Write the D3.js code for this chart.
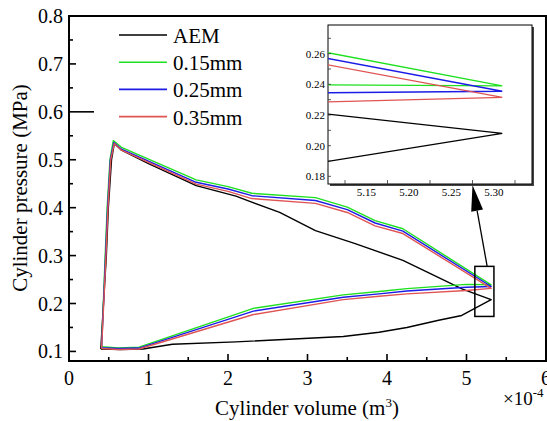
<!DOCTYPE html>
<html>
<head>
<meta charset="utf-8">
<script src="https://cdn.jsdelivr.net/npm/d3@7"></script>
<style>
  html, body { margin: 0; padding: 0; background: #fff; }
  svg { display: block; }
  svg text { font-family: "Liberation Serif", "Times New Roman", "DejaVu Serif", serif; }
</style>
</head>
<body>
<div id="chart"></div>
<script>
// data (volume in 1e-4 m3, pressure in MPa), loop order: rise, expansion, return
const aemVol = [0.40, 0.47, 0.495, 0.535, 0.57, 0.66, 1.0, 1.6, 2.1, 2.65, 3.1, 3.6, 4.2, 4.95, 5.31, 4.94, 4.65, 4.25, 3.9, 3.45, 2.1, 1.3, 0.93, 0.65, 0.40];
const aemP   = [0.105, 0.30, 0.40, 0.50, 0.534, 0.520, 0.492, 0.446, 0.424, 0.39, 0.352, 0.325, 0.29, 0.230, 0.208, 0.175, 0.165, 0.150, 0.140, 0.131, 0.120, 0.115, 0.105, 0.104, 0.105];

const g15Vol = [0.41, 0.455, 0.48, 0.515, 0.557, 0.66, 1.6, 2.0, 2.3, 3.1, 3.5, 3.85, 4.2, 5.31, 5.0, 4.25, 3.9, 3.45, 2.32, 0.88, 0.62, 0.41];
const g15P   = [0.110, 0.30, 0.40, 0.50, 0.540, 0.526, 0.458, 0.444, 0.430, 0.421, 0.401, 0.373, 0.356, 0.239, 0.240, 0.231, 0.225, 0.218, 0.190, 0.109, 0.107, 0.110];

const g25Vol = [0.41, 0.46, 0.485, 0.52, 0.565, 0.66, 1.6, 2.0, 2.3, 3.1, 3.5, 3.85, 4.2, 5.31, 5.0, 4.25, 3.9, 3.45, 2.32, 0.88, 0.62, 0.41];
const g25P   = [0.108, 0.30, 0.40, 0.50, 0.536, 0.522, 0.453, 0.439, 0.425, 0.415, 0.396, 0.368, 0.351, 0.2355, 0.234, 0.226, 0.220, 0.213, 0.184, 0.107, 0.106, 0.108];

const g35Vol = [0.41, 0.465, 0.49, 0.525, 0.57, 0.66, 1.6, 2.0, 2.3, 3.1, 3.5, 3.85, 4.2, 5.31, 5.0, 4.25, 3.9, 3.45, 2.32, 0.88, 0.62, 0.41];
const g35P   = [0.106, 0.30, 0.40, 0.50, 0.534, 0.520, 0.449, 0.434, 0.419, 0.409, 0.390, 0.362, 0.346, 0.2315, 0.227, 0.220, 0.215, 0.208, 0.177, 0.105, 0.104, 0.106];

const seriesNames  = ["AEM", "0.15mm", "0.25mm", "0.35mm"];
const seriesColors = ["#000000", "#1ee01e", "#1c1ce6", "#e05454"];

const xTicks = [0, 1, 2, 3, 4, 5, 6];
const yTicks = [0.1, 0.2, 0.3, 0.4, 0.5, 0.6, 0.7, 0.8];
const insetXTicks = [5.15, 5.20, 5.25, 5.30];
const insetYTicks = [0.18, 0.20, 0.22, 0.24, 0.26];

const series = [
  { name: seriesNames[0], color: seriesColors[0], pts: aemVol.map((v, i) => [v, aemP[i]]) },
  { name: seriesNames[1], color: seriesColors[1], pts: g15Vol.map((v, i) => [v, g15P[i]]) },
  { name: seriesNames[2], color: seriesColors[2], pts: g25Vol.map((v, i) => [v, g25P[i]]) },
  { name: seriesNames[3], color: seriesColors[3], pts: g35Vol.map((v, i) => [v, g35P[i]]) }
];

const W = 547, H = 421;
const svg = d3.select("#chart").append("svg").attr("width", W).attr("height", H)
  .attr("font-family", "'Liberation Serif', 'Times New Roman', serif");

// main scales
const x = d3.scaleLinear().domain([0, 6]).range([69, 546]);
const y = d3.scaleLinear().domain([0.08, 0.8]).range([361, 16]);

svg.append("clipPath").attr("id", "mainClip")
  .append("rect").attr("x", 69).attr("y", 16).attr("width", 477).attr("height", 345);

const line = d3.line().x(d => x(d[0])).y(d => y(d[1]));

const plot = svg.append("g").attr("clip-path", "url(#mainClip)");
series.forEach(s => {
  plot.append("path").datum(s.pts)
    .attr("d", line)
    .attr("fill", "none")
    .attr("stroke", s.color)
    .attr("stroke-width", 1.4)
    .attr("stroke-linejoin", "round");
});

// ticks (inward) main
const tk = svg.append("g").attr("stroke", "#000").attr("stroke-width", 1.6);
xTicks.slice(1, -1).forEach(t => {
  tk.append("line").attr("x1", x(t)).attr("x2", x(t)).attr("y1", 361).attr("y2", 354);
});
d3.range(0.5, 6, 1).forEach(t => {
  tk.append("line").attr("x1", x(t)).attr("x2", x(t)).attr("y1", 361).attr("y2", 357);
});
yTicks.slice(0, -1).forEach(t => {
  tk.append("line").attr("x1", 69).attr("x2", t === 0.6 ? 94 : 76).attr("y1", y(t)).attr("y2", y(t));
});
d3.range(0.15, 0.8, 0.1).forEach(t => {
  tk.append("line").attr("x1", 69).attr("x2", 73).attr("y1", y(t)).attr("y2", y(t));
});

// frame
svg.append("rect").attr("x", 69).attr("y", 16).attr("width", 477).attr("height", 345)
  .attr("fill", "none").attr("stroke", "#000").attr("stroke-width", 2);

// tick labels
svg.append("g").selectAll("text").data(xTicks).join("text")
  .attr("x", d => x(d)).attr("y", 385)
  .attr("text-anchor", "middle").attr("font-size", 20)
  .text(d => d);
svg.append("g").selectAll("text").data(yTicks).join("text")
  .attr("x", 63).attr("y", d => y(d) + 7)
  .attr("text-anchor", "end").attr("font-size", 20)
  .text(d => d.toFixed(1));

// axis titles
svg.append("text").attr("x", 307).attr("y", 415).attr("text-anchor", "middle").attr("font-size", 21)
  .html('Cylinder volume (m<tspan dy="-8" font-size="13">3</tspan><tspan dy="8">)</tspan>');
svg.append("text").attr("transform", "translate(27,188) rotate(-90)").attr("text-anchor", "middle")
  .attr("font-size", 21).text("Cylinder pressure (MPa)");
svg.append("text").attr("x", 503).attr("y", 405).attr("font-size", 19)
  .html('×10<tspan dy="-8" font-size="13">-4</tspan>');

// legend
const leg = svg.append("g");
series.forEach((s, i) => {
  const ly = 35 + i * 27.2;
  leg.append("line").attr("x1", 119).attr("x2", 167).attr("y1", ly).attr("y2", ly)
    .attr("stroke", s.color).attr("stroke-width", 1.6);
  leg.append("text").attr("x", 173).attr("y", ly + 8).attr("font-size", 21).text(s.name);
});

// zoom box on main plot
const ix = d3.scaleLinear().domain([5.105, 5.345]).range([328, 532]);
const iy = d3.scaleLinear().domain([0.175, 0.2787]).range([184, 25]);
svg.append("rect")
  .attr("x", x(5.105)).attr("y", y(0.2775))
  .attr("width", x(5.345) - x(5.105)).attr("height", y(0.173) - y(0.2775))
  .attr("fill", "none").attr("stroke", "#000").attr("stroke-width", 1.5);

// arrow
const ax0 = x(5.26), ay0 = y(0.2775);
const ax1 = ix(5.275), ay1 = 185;
const ang = Math.atan2(ay1 - ay0, ax1 - ax0);
const hl = 26, hw = 6;
const bx = ax1 - hl * Math.cos(ang), by = ay1 - hl * Math.sin(ang);
svg.append("line").attr("x1", ax0).attr("y1", ay0).attr("x2", bx).attr("y2", by)
  .attr("stroke", "#000").attr("stroke-width", 1.3);
svg.append("path")
  .attr("d", `M${ax1},${ay1} L${bx + hw * Math.sin(ang)},${by - hw * Math.cos(ang)} L${bx - hw * Math.sin(ang)},${by + hw * Math.cos(ang)} Z`)
  .attr("fill", "#000");

// inset
const inset = svg.append("g");
inset.append("rect").attr("x", 330).attr("y", 27).attr("width", 204).attr("height", 159).attr("fill", "#444");
inset.append("rect").attr("x", 328).attr("y", 25).attr("width", 204).attr("height", 159)
  .attr("fill", "#fff").attr("stroke", "#000").attr("stroke-width", 1);

svg.append("clipPath").attr("id", "insetClip")
  .append("rect").attr("x", 328).attr("y", 25).attr("width", 204).attr("height", 159);
const iline = d3.line().x(d => ix(d[0])).y(d => iy(d[1]));
const ip = inset.append("g").attr("clip-path", "url(#insetClip)");
series.forEach(s => {
  ip.append("path").datum(s.pts).attr("d", iline)
    .attr("fill", "none").attr("stroke", s.color).attr("stroke-width", 1.3);
});

const itk = inset.append("g").attr("stroke", "#333").attr("stroke-width", 0.8);
d3.range(5.125, 5.34, 0.05).forEach(t => {
  itk.append("line").attr("x1", ix(t)).attr("x2", ix(t)).attr("y1", 184).attr("y2", 180);
});
d3.range(0.18, 0.275, 0.01).forEach(t => {
  itk.append("line").attr("x1", 328).attr("x2", 331).attr("y1", iy(t)).attr("y2", iy(t));
});
inset.append("g").selectAll("text").data(insetXTicks).join("text")
  .attr("x", d => ix(d)).attr("y", 196).attr("text-anchor", "middle").attr("font-size", 11)
  .text(d => d.toFixed(2));
inset.append("g").selectAll("text").data(insetYTicks).join("text")
  .attr("x", 325).attr("y", d => iy(d) + 4).attr("text-anchor", "end").attr("font-size", 11)
  .text(d => d.toFixed(2));
</script>
</body>
</html>
